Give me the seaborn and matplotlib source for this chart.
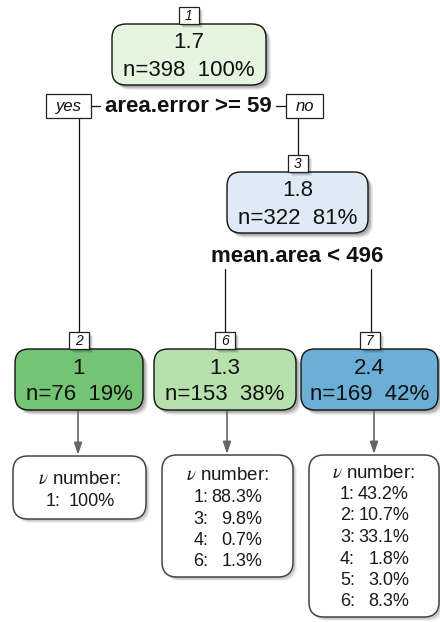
import matplotlib
matplotlib.use("Agg")
import matplotlib.pyplot as plt
import seaborn as sns
from matplotlib.patches import FancyBboxPatch, Rectangle

sns.set_theme(style="white")
plt.rcParams['font.family'] = ['Liberation Sans', 'DejaVu Sans']
plt.rcParams['mathtext.fontset'] = 'stix'

# ---------------- data ----------------
node_ids = [1, 3, 2, 6, 7]
node_yval = [1.7, 1.8, 1.0, 1.3, 2.4]
node_n = [398, 322, 76, 153, 169]
node_pct = [100, 81, 19, 38, 42]
node_colors = ["#e5f5e0", "#deebf7", "#74c476", "#b6e1ad", "#6baed6"]

split_labels = ["area.error >= 59", "mean.area < 496"]
branch_labels = ["yes", "no"]

leaf_ids = [2, 6, 7]
leaf2_cats = [1]
leaf2_pct = [100.0]
leaf6_cats = [1, 3, 4, 6]
leaf6_pct = [88.3, 9.8, 0.7, 1.3]
leaf7_cats = [1, 2, 3, 4, 5, 6]
leaf7_pct = [43.2, 10.7, 33.1, 1.8, 3.0, 8.3]
leaf_title = r"$\nu$ number:"

# ---------------- layout ----------------
node_box = {  # x, y(top), w, h in pixel-like data coords
    1: (112, 24, 154, 61),
    3: (227, 172, 141, 61),
    2: (15, 349, 128, 61),
    6: (154, 349, 142, 61),
    7: (301, 349, 137, 61),
}
leaf_box = {
    2: (13, 456, 133, 63),
    6: (162, 455, 131, 122),
    7: (309, 455, 130, 162),
}
leaf_first_y = {2: 480, 6: 476, 7: 473}

fig = plt.figure(figsize=(4.4, 6.22), dpi=100)
ax = fig.add_axes([0, 0, 1, 1])
ax.set_xlim(0, 440)
ax.set_ylim(622, 0)
ax.axis("off")


def shadow(x, y, w, h, r, z):
    for k, a in [(5, 0.07), (4, 0.09), (3, 0.11), (2, 0.11)]:
        ax.add_patch(FancyBboxPatch((x + k, y + k), w, h,
                                    boxstyle=f"round,pad=0,rounding_size={r}",
                                    fc="#000000", ec="none", alpha=a, zorder=z))


def label_box(cx, ytop, txt, w=20, h=17, fs=10):
    x = cx - w / 2
    for k, a in [(4, 0.08), (3, 0.10), (2, 0.11)]:
        ax.add_patch(Rectangle((x + k, ytop + k), w, h, fc="#000", ec="none", alpha=a, zorder=3))
    ax.add_patch(Rectangle((x, ytop), w, h, fc="white", ec="#222222", lw=0.9, zorder=4))
    ax.text(cx, ytop + h / 2 + 0.5, txt, ha="center", va="center", fontsize=fs,
            style="italic", color="#111111", zorder=5)


# tree lines
lc = "#111111"
ax.plot([91, 100], [106, 106], color=lc, lw=0.9, zorder=1)
ax.plot([276, 286], [106, 106], color=lc, lw=0.9, zorder=1)
ax.plot([79, 79], [118, 332], color=lc, lw=0.9, zorder=1)
ax.plot([298, 298], [118, 155], color=lc, lw=0.9, zorder=1)
ax.plot([225, 225], [269, 332], color=lc, lw=0.9, zorder=1)
ax.plot([371, 371], [269, 332], color=lc, lw=0.9, zorder=1)

# split texts
ax.text(188, 107, split_labels[0], ha="center", va="center", fontsize=16,
        fontweight="bold", color="#111111", zorder=5)
ax.text(297.5, 256, split_labels[1], ha="center", va="center", fontsize=16,
        fontweight="bold", color="#111111", zorder=5)

# yes / no boxes
for txt, (x, y, w, h) in zip(branch_labels, [(46, 94, 45, 24), (286, 94, 37, 24)]):
    ax.add_patch(Rectangle((x, y), w, h, fc="white", ec="#222222", lw=0.9, zorder=4))
    ax.text(x + w / 2, y + h / 2 + 0.5, txt, ha="center", va="center", fontsize=12,
            style="italic", color="#111111", zorder=5)

# nodes
for nid, yv, n, p, col in zip(node_ids, node_yval, node_n, node_pct, node_colors):
    x, y, w, h = node_box[nid]
    shadow(x, y, w, h, 14, 2)
    ax.add_patch(FancyBboxPatch((x, y), w, h, boxstyle="round,pad=0,rounding_size=14",
                                fc=col, ec="#111111", lw=1.0, zorder=3))
    cx = x + w / 2
    ax.text(cx, y + 19, f"{yv:g}", ha="center", va="center", fontsize=16, color="#111111", zorder=5)
    ax.text(cx, y + 46, f"n={n}  {p}%", ha="center", va="center", fontsize=16, color="#111111", zorder=5)
    label_box(cx, y - 17, str(nid))

# leaves
leaf_data = {2: (leaf2_cats, leaf2_pct), 6: (leaf6_cats, leaf6_pct), 7: (leaf7_cats, leaf7_pct)}
arrow_x = {2: 78, 6: 227, 7: 374}
for lid in leaf_ids:
    x, y, w, h = leaf_box[lid]
    ax.annotate("", xy=(arrow_x[lid], y - 1), xytext=(arrow_x[lid], 410),
                arrowprops=dict(arrowstyle="-|>,head_length=0.6,head_width=0.2",
                                color="#666666", lw=1.2, shrinkA=0, shrinkB=0), zorder=2)
    for k, a in [(4, 0.06), (3, 0.08), (2, 0.09)]:
        ax.add_patch(FancyBboxPatch((x + k, y + k), w, h, boxstyle="round,pad=0,rounding_size=15",
                                    fc="#000", ec="none", alpha=a, zorder=2))
    ax.add_patch(FancyBboxPatch((x, y), w, h, boxstyle="round,pad=0,rounding_size=15",
                                fc="white", ec="#444444", lw=1.1, zorder=3))
    cx = x + w / 2
    y0 = leaf_first_y[lid]
    ax.text(cx, y0, leaf_title, ha="center", va="center", fontsize=13.5, color="#1a1a1a", zorder=5)
    cats, pcts = leaf_data[lid]
    for i, (c, p) in enumerate(zip(cats, pcts)):
        yy = y0 + 21.5 * (i + 1)
        ptxt = "100%" if p == 100 else f"{p:.1f}%"
        ax.text(cx - 34, yy, f"{c}:", ha="left", va="center", fontsize=13, color="#1a1a1a", zorder=5)
        ax.text(cx + 35, yy, ptxt, ha="right", va="center", fontsize=13, color="#1a1a1a", zorder=5)

fig.savefig("out.png", dpi=100)
